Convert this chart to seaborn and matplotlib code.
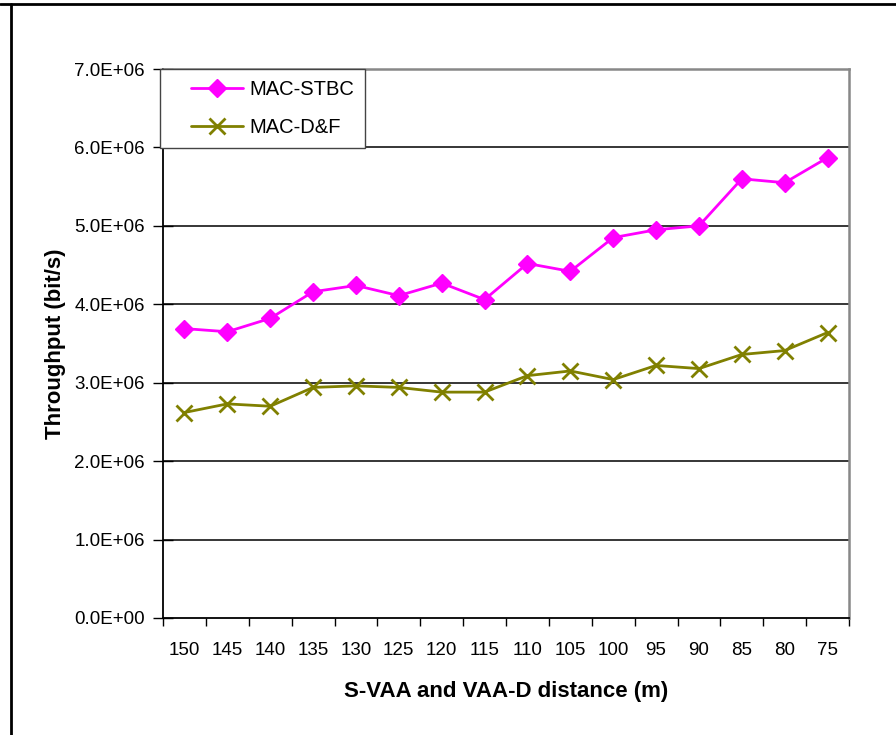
import matplotlib
matplotlib.use("Agg")
import matplotlib.pyplot as plt
from matplotlib.lines import Line2D
from matplotlib.legend_handler import HandlerLine2D
import numpy as np
import pandas as pd
import seaborn as sns

# Distance between S-VAA and VAA-D (m)
distances = ["150", "145", "140", "135", "130", "125", "120", "115",
             "110", "105", "100", "95", "90", "85", "80", "75"]

# Throughput (bit/s)
mac_stbc = [3.69e6, 3.65e6, 3.82e6, 4.16e6, 4.24e6, 4.11e6, 4.27e6, 4.06e6,
            4.52e6, 4.42e6, 4.85e6, 4.95e6, 5.00e6, 5.60e6, 5.55e6, 5.87e6]
mac_df = [2.62e6, 2.73e6, 2.70e6, 2.94e6, 2.96e6, 2.94e6, 2.88e6, 2.88e6,
          3.09e6, 3.15e6, 3.04e6, 3.22e6, 3.18e6, 3.36e6, 3.41e6, 3.64e6]

series_names = ["MAC-STBC", "MAC-D&F"]
yticks = [0, 1e6, 2e6, 3e6, 4e6, 5e6, 6e6, 7e6]
ytick_labels = ["0.0E+00", "1.0E+06", "2.0E+06", "3.0E+06",
                "4.0E+06", "5.0E+06", "6.0E+06", "7.0E+06"]

df = pd.DataFrame({
    "distance": distances * 2,
    "throughput": mac_stbc + mac_df,
    "protocol": [series_names[0]] * len(distances) + [series_names[1]] * len(distances),
})

sns.set_theme(style="white")
plt.rcParams["font.family"] = ["Liberation Sans", "DejaVu Sans"]
plt.rcParams["text.color"] = "black"
plt.rcParams["axes.labelcolor"] = "black"
plt.rcParams["xtick.color"] = "black"
plt.rcParams["ytick.color"] = "black"

fig = plt.figure(figsize=(8.96, 7.35), dpi=100)
ax = fig.add_axes([163 / 896, 1 - 618 / 735, (849 - 163) / 896, (618 - 69) / 735])

styles = {
    "MAC-STBC": dict(color="#FF00FF", marker="D", ms=9, mew=1),
    "MAC-D&F": dict(color="#808000", marker="x", ms=11, mew=2),
}

for name in series_names:
    sub = df[df["protocol"] == name]
    st = styles[name]
    sns.pointplot(data=sub, x="distance", y="throughput", order=distances,
                  color=st["color"], markers=st["marker"], errorbar=None,
                  ax=ax, linewidth=2)
    ln = ax.lines[-1]
    ln.set_markersize(st["ms"])
    ln.set_markeredgewidth(st["mew"])
    ln.set_markeredgecolor(st["color"])
    ln.set_markerfacecolor(st["color"])

ax.set_xlim(-0.5, len(distances) - 0.5)
ax.set_ylim(0, 7e6)

# horizontal gridlines
for v in yticks[1:-1]:
    ax.axhline(v, color="black", lw=1.1, zorder=0)

ax.set_yticks(yticks)
ax.set_yticklabels(ytick_labels, fontsize=13.5)
ax.tick_params(axis="y", direction="inout", length=14, width=1, color="black",
               left=True, pad=6)

# category boundaries carry the x tick marks
ax.set_xticks(np.arange(len(distances)))
ax.set_xticklabels(distances, fontsize=13.5)
ax.tick_params(axis="x", which="major", length=0, pad=17)
ax.set_xticks(np.arange(len(distances) + 1) - 0.5, minor=True)
ax.tick_params(axis="x", which="minor", direction="out", length=6, width=1,
               color="black", bottom=True)

for side in ["left", "bottom"]:
    ax.spines[side].set_color("black")
    ax.spines[side].set_linewidth(1.3)
for side in ["top", "right"]:
    ax.spines[side].set_color("#888888")
    ax.spines[side].set_linewidth(1.8)
    ax.spines[side].set_visible(True)

ax.set_xlabel("S-VAA and VAA-D distance (m)", fontsize=16, fontweight="bold",
              labelpad=16)
ax.set_ylabel("Throughput (bit/s)", fontsize=16, fontweight="bold", labelpad=6)

handles = [
    Line2D([], [], color="#FF00FF", lw=2, marker="D", ms=9),
    Line2D([], [], color="#808000", lw=2, marker="x", ms=11, mew=2),
]
leg = ax.legend(handles, series_names, loc="upper left",
                bbox_to_anchor=(-0.005, 1.0), fontsize=14.5, frameon=True,
                fancybox=False, edgecolor="#444444", framealpha=1,
                handlelength=3.6, labelspacing=0.95, borderpad=0.55,
                handletextpad=0.3, borderaxespad=0,
                handler_map={Line2D: HandlerLine2D(xpad=1.0)})
leg.get_frame().set_linewidth(1.0)

# outer frame lines
fig.add_artist(Line2D([0, 1], [1 - 4 / 735, 1 - 4 / 735], color="black", lw=2,
                      transform=fig.transFigure))
fig.add_artist(Line2D([11 / 896, 11 / 896], [0, 1 - 4 / 735], color="black", lw=2,
                      transform=fig.transFigure))

fig.savefig("out.png", dpi=100)
